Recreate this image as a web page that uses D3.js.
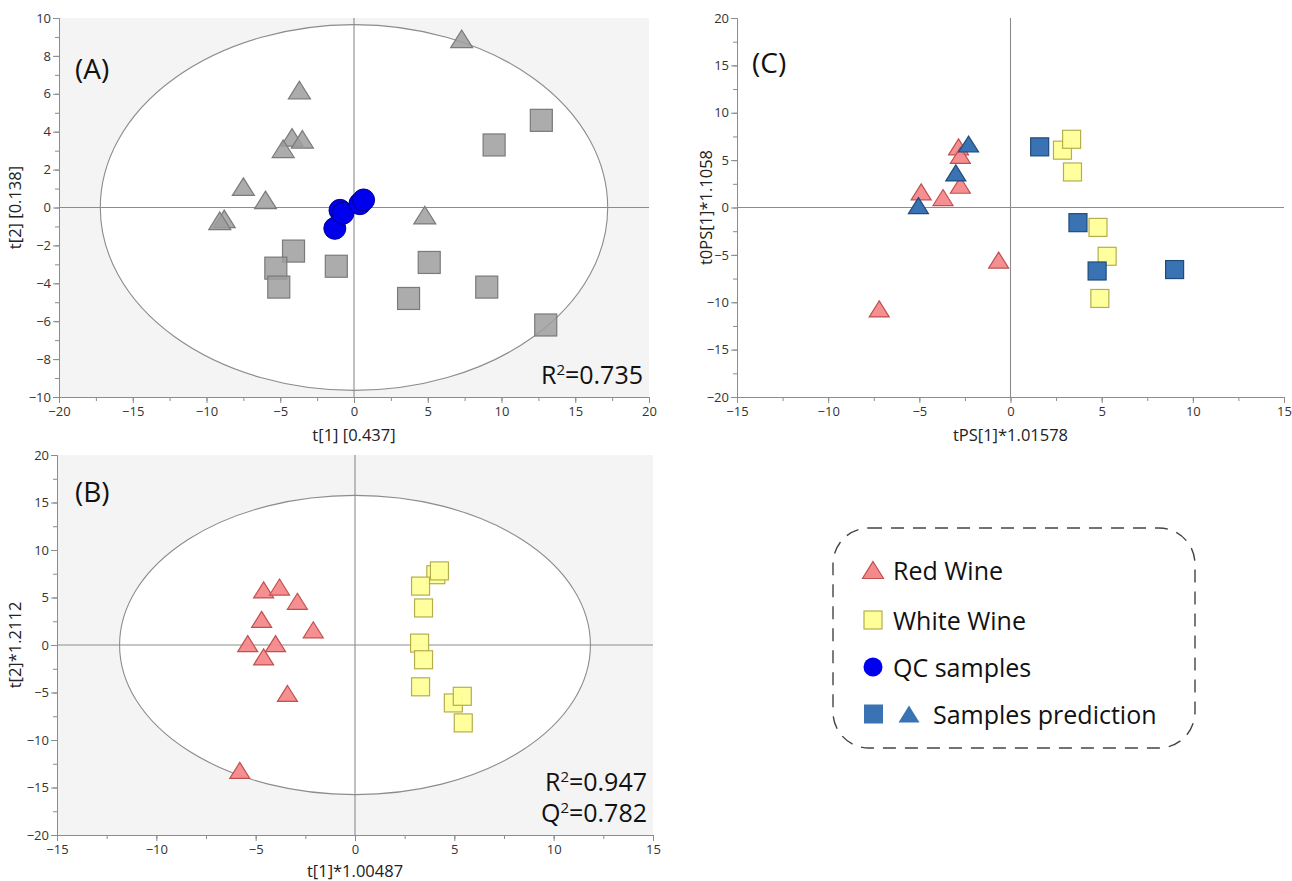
<!DOCTYPE html>
<html lang="en">
<head>
    <meta charset="UTF-8">
    <title>Wine PCA / OPLS score plots</title>
    <script src="https://d3js.org/d3.v7.min.js"></script>
    <style>
        body { margin: 0; background: #fff; font-family: "Open Sans", sans-serif; }
        .axis path, .axis line { stroke: #8c8c8c; }
        .axis text { font-family: "Open Sans", sans-serif; font-size: 13px; fill: #333; }
        .axtitle { font-size: 16.5px; fill: #222; }
        .tag { font-size: 28px; fill: #111; }
        .stat { font-size: 25px; fill: #111; }
        .legend text { font-size: 25px; fill: #111; }
    </style>
</head>
<body>
<svg id="chart" width="1292" height="881"></svg>
<script>
// (A) PCA scores, all samples + QC
let a_triangles = [[7.3, 8.9], [-3.7, 6.2], [-4.2, 3.7], [-3.5, 3.6], [-4.8, 3.1], [-7.5, 1.1], [-6.0, 0.4], [-8.8, -0.6], [-9.1, -0.7], [4.8, -0.4]]
let a_squares = [[12.7, 4.6], [9.5, 3.3], [-4.1, -2.3], [-5.3, -3.2], [-5.1, -4.2], [-1.2, -3.1], [5.1, -2.9], [3.7, -4.8], [9.0, -4.2], [13.0, -6.2]]
let a_qc = [[-1.3, -1.1], [-0.95, -0.15], [-0.75, -0.3], [0.4, 0.2], [0.65, 0.4]]

// (B) PLS-DA scores
let b_red = [[-4.6, 5.8], [-3.8, 6.1], [-2.9, 4.6], [-4.7, 2.7], [-2.1, 1.6], [-5.4, 0.15], [-4.0, 0.15], [-4.6, -1.25], [-3.4, -5.1], [-5.8, -13.2]]
let b_white = [[4.07, 7.4], [4.25, 7.8], [3.3, 6.2], [3.45, 3.9], [3.25, 0.2], [3.45, -1.55], [3.3, -4.4], [4.95, -6.1], [5.4, -5.4], [5.45, -8.2]]

// (C) OPLS-DA prediction
let c_red = [[-2.85, 6.4], [-2.75, 5.5], [-2.75, 2.35], [-4.9, 1.65], [-3.7, 1.05], [-7.2, -10.7], [-0.65, -5.55]]
let c_white = [[2.85, 6.05], [3.35, 7.2], [3.4, 3.75], [4.8, -2.1], [5.3, -5.15], [4.9, -9.6]]
let c_pred_tri = [[-2.3, 6.7], [-3.0, 3.65], [-5.05, 0.2]]
let c_pred_sq = [[1.6, 6.4], [3.7, -1.6], [4.75, -6.7], [9.0, -6.55]]

let legend_labels = ["Red Wine", "White Wine", "QC samples", "Samples prediction"]

let styles = {
    gray: { fill: "#9e9e9e", stroke: "#7a7a7a", opacity: 0.85 },
    red: { fill: "#f4898b", stroke: "#c0504d", opacity: 0.95 },
    yellow: { fill: "#ffff99", stroke: "#b5ae4c", opacity: 0.95 },
    blue: { fill: "#3a73b3", stroke: "#1f4a7a", opacity: 1 },
    qc: { fill: "#0000ee", stroke: "#00008b", opacity: 1 }
}

let svg = d3.select("#chart")

function triPath(w, h) {
    return `M0,${-h / 2}L${w / 2},${h / 2}L${-w / 2},${h / 2}Z`
}

function drawMarks(g, x, y, data, shape, st, size) {
    let sel = g.append("g").selectAll("path").data(data).enter()
    if (shape === "tri") {
        sel.append("path")
            .attr("d", triPath(size, size * 0.8))
            .attr("transform", d => `translate(${x(d[0])},${y(d[1])})`)
            .attr("fill", st.fill).attr("stroke", st.stroke).attr("stroke-width", 1.2)
            .attr("fill-opacity", st.opacity)
    } else if (shape === "sq") {
        sel.append("rect")
            .attr("x", d => x(d[0]) - size / 2).attr("y", d => y(d[1]) - size / 2)
            .attr("width", size).attr("height", size)
            .attr("fill", st.fill).attr("stroke", st.stroke).attr("stroke-width", 1.2)
            .attr("fill-opacity", st.opacity)
    } else {
        sel.append("circle")
            .attr("cx", d => x(d[0])).attr("cy", d => y(d[1])).attr("r", size / 2)
            .attr("fill", st.fill).attr("stroke", st.stroke).attr("stroke-width", 1)
    }
}

function panel(p) {
    let x = d3.scaleLinear().domain(p.xd).range([p.left, p.right])
    let y = d3.scaleLinear().domain(p.yd).range([p.bottom, p.top])
    let g = svg.append("g")

    if (p.shade) {
        g.append("rect").attr("x", p.left).attr("y", p.top)
            .attr("width", p.right - p.left).attr("height", p.bottom - p.top)
            .attr("fill", "#f4f4f4")
        g.append("ellipse")
            .attr("cx", x(0)).attr("cy", y(0))
            .attr("rx", x(p.ell[0]) - x(0)).attr("ry", y(0) - y(p.ell[1]))
            .attr("fill", "#fff").attr("stroke", "#8c8c8c").attr("stroke-width", 1.1)
    }
    // zero lines
    g.append("line").attr("x1", p.left).attr("x2", p.right).attr("y1", y(0)).attr("y2", y(0))
        .attr("stroke", "#8c8c8c").attr("stroke-width", 1.1)
    g.append("line").attr("x1", x(0)).attr("x2", x(0)).attr("y1", p.top).attr("y2", p.bottom)
        .attr("stroke", "#8c8c8c").attr("stroke-width", 1.1)

    // axes with minor ticks
    let xMinor = d3.range(p.xd[0], p.xd[1] + 0.001, p.xs / 2)
    let yMinor = d3.range(p.yd[0], p.yd[1] + 0.001, p.ys / 2)
    g.append("g").attr("class", "axis").attr("transform", `translate(0,${p.bottom})`)
        .call(d3.axisBottom(x).tickValues(xMinor).tickSize(4).tickFormat(""))
    g.append("g").attr("class", "axis").attr("transform", `translate(${p.left},0)`)
        .call(d3.axisLeft(y).tickValues(yMinor).tickSize(4).tickFormat(""))
    g.append("g").attr("class", "axis").attr("transform", `translate(0,${p.bottom})`)
        .call(d3.axisBottom(x).tickValues(d3.range(p.xd[0], p.xd[1] + 0.001, p.xs)).tickSize(6).tickSizeOuter(0).tickPadding(4))
    g.append("g").attr("class", "axis").attr("transform", `translate(${p.left},0)`)
        .call(d3.axisLeft(y).tickValues(d3.range(p.yd[0], p.yd[1] + 0.001, p.ys)).tickSize(6).tickSizeOuter(0).tickPadding(2))

    g.append("text").attr("class", "axtitle").attr("x", x(0)).attr("y", p.bottom + p.xoff)
        .attr("text-anchor", "middle").text(p.xlab)
    g.append("text").attr("class", "axtitle")
        .attr("transform", `translate(${p.left - p.yoff},${(p.top + p.bottom) / 2}) rotate(-90)`)
        .attr("text-anchor", "middle").text(p.ylab)
    g.append("text").attr("class", "tag").attr("x", p.left + p.tag[0]).attr("y", p.top + p.tag[1]).text(p.name)

    p.series.forEach(s => drawMarks(g, x, y, s.data, s.shape, s.style, s.size))

    p.stats.forEach((s, i) => {
        let t = g.append("text").attr("class", "stat").attr("x", p.right - 6)
            .attr("y", p.bottom - 13 - (p.stats.length - 1 - i) * 31).attr("text-anchor", "end")
        t.append("tspan").text(s[0])
        t.append("tspan").attr("dy", -9).attr("font-size", 15).text("2")
        t.append("tspan").attr("dy", 9).text("=" + s[1])
    })
}

panel({
    name: "(A)", left: 59, right: 649, top: 18, bottom: 397,
    xd: [-20, 20], yd: [-10, 10], xs: 5, ys: 2, shade: true, ell: [17.2, 9.65],
    xlab: "t[1] [0.437]", ylab: "t[2] [0.138]", tag: [16, 61], xoff: 44, yoff: 38,
    series: [
        { data: a_triangles, shape: "tri", style: styles.gray, size: 22 },
        { data: a_squares, shape: "sq", style: styles.gray, size: 22 },
        { data: a_qc, shape: "circle", style: styles.qc, size: 22 }
    ],
    stats: [["R", "0.735"]]
})

panel({
    name: "(B)", left: 57, right: 653, top: 455, bottom: 835,
    xd: [-15, 15], yd: [-20, 20], xs: 5, ys: 5, shade: true, ell: [11.85, 15.75],
    xlab: "t[1]*1.00487", ylab: "t[2]*1.2112", tag: [18, 47], xoff: 42, yoff: 36,
    series: [
        { data: b_red, shape: "tri", style: styles.red, size: 20 },
        { data: b_white, shape: "sq", style: styles.yellow, size: 18 }
    ],
    stats: [["R", "0.947"], ["Q", "0.782"]]
})

panel({
    name: "(C)", left: 737, right: 1284, top: 18, bottom: 397,
    xd: [-15, 15], yd: [-20, 20], xs: 5, ys: 5, shade: false,
    xlab: "tPS[1]*1.01578", ylab: "t0PS[1]*1.1058", tag: [15, 55], xoff: 44, yoff: 25,
    series: [
        { data: c_red, shape: "tri", style: styles.red, size: 20 },
        { data: c_white, shape: "sq", style: styles.yellow, size: 18 },
        { data: c_pred_sq, shape: "sq", style: styles.blue, size: 18 },
        { data: c_pred_tri, shape: "tri", style: styles.blue, size: 20 }
    ],
    stats: []
})

// legend
let lg = svg.append("g").attr("class", "legend")
lg.append("rect").attr("x", 833).attr("y", 528).attr("width", 362).attr("height", 220)
    .attr("rx", 36).attr("ry", 36).attr("fill", "none")
    .attr("stroke", "#444").attr("stroke-width", 1.4).attr("stroke-dasharray", "13,9")
let rowY = [570, 620, 667, 714]
lg.append("path").attr("d", triPath(21, 17)).attr("transform", `translate(873,${rowY[0]})`)
    .attr("fill", styles.red.fill).attr("stroke", styles.red.stroke).attr("stroke-width", 1.2)
lg.append("rect").attr("x", 864).attr("y", rowY[1] - 9).attr("width", 18).attr("height", 18)
    .attr("fill", styles.yellow.fill).attr("stroke", styles.yellow.stroke).attr("stroke-width", 1.2)
lg.append("circle").attr("cx", 873).attr("cy", rowY[2]).attr("r", 9.5)
    .attr("fill", styles.qc.fill)
lg.append("rect").attr("x", 864).attr("y", rowY[3] - 9.5).attr("width", 19).attr("height", 19)
    .attr("fill", styles.blue.fill)
lg.append("path").attr("d", triPath(21, 17)).attr("transform", `translate(909,${rowY[3]})`)
    .attr("fill", styles.blue.fill)
legend_labels.forEach((t, i) => {
    lg.append("text").attr("x", i === 3 ? 933 : 893).attr("y", rowY[i])
        .attr("dominant-baseline", "central").text(t)
})
</script>
</body>
</html>
